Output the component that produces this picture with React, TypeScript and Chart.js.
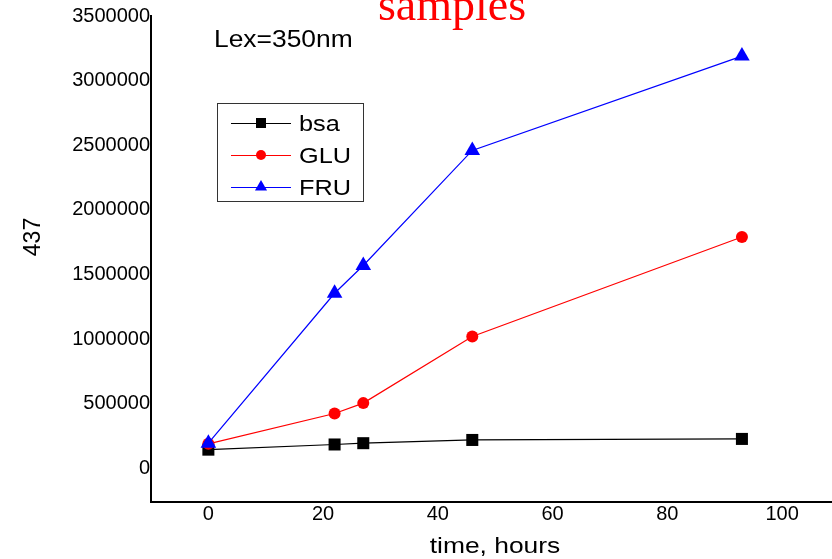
import React, { useEffect, useRef } from "react";
import { Chart, registerables } from "chart.js";

Chart.register(...registerables);

const hours = [0, 22, 27, 46, 93];
const bsa = [145000, 185000, 195000, 220000, 228000];
const glu = [190000, 425000, 505000, 1020000, 1790000];
const fru = [195000, 1355000, 1570000, 2460000, 3190000];
const yTicks = [0, 500000, 1000000, 1500000, 2000000, 2500000, 3000000, 3500000];
const xTicks = [0, 20, 40, 60, 80, 100];
const titleText = "samples";
const noteText = "Lex=350nm";
const xTitle = "time, hours";
const yTitle = "437";

const SANS = '"Liberation Sans", Arial, sans-serif';
const SERIF = '"Liberation Serif", "Times New Roman", serif';

function drawText(ctx, text, x, y, font, color, sx, align) {
  ctx.save();
  ctx.font = font;
  ctx.fillStyle = color;
  ctx.textBaseline = "alphabetic";
  ctx.textAlign = align;
  ctx.translate(x, y);
  ctx.scale(sx, 1);
  ctx.fillText(text, 0, 0);
  ctx.restore();
}

function drawMarker(ctx, style, x, y, r, color) {
  ctx.save();
  ctx.fillStyle = color;
  ctx.beginPath();
  if (style === "rect") {
    ctx.rect(x - r, y - r, 2 * r, 2 * r);
  } else if (style === "circle") {
    ctx.arc(x, y, r, 0, Math.PI * 2);
  } else {
    ctx.moveTo(x, y - r);
    ctx.lineTo(x + r * 0.866, y + r * 0.5);
    ctx.lineTo(x - r * 0.866, y + r * 0.5);
    ctx.closePath();
  }
  ctx.fill();
  ctx.restore();
}

const decorPlugin = {
  id: "decor",
  afterDraw(chart) {
    const ctx = chart.ctx;
    drawText(ctx, titleText, 452, 20, `46px ${SERIF}`, "#ff0000", 1, "center");
    drawText(ctx, noteText, 214, 47, `24px ${SANS}`, "#000", 1.1, "left");
    drawText(ctx, xTitle, 495, 553, `22px ${SANS}`, "#000", 1.2, "center");
    ctx.save();
    ctx.translate(40, 237);
    ctx.rotate(-Math.PI / 2);
    ctx.font = `23px ${SANS}`;
    ctx.fillStyle = "#000";
    ctx.textAlign = "center";
    ctx.textBaseline = "alphabetic";
    ctx.fillText(yTitle, 0, 0);
    ctx.restore();
    ctx.save();
    ctx.strokeStyle = "#333";
    ctx.lineWidth = 1;
    ctx.strokeRect(217.5, 103.5, 146, 98);
    ctx.restore();
    const rows = [123, 155, 187];
    const sizes = [5, 5, 7];
    chart.data.datasets.forEach((ds, i) => {
      const y = rows[i];
      ctx.save();
      ctx.strokeStyle = ds.borderColor;
      ctx.lineWidth = 1;
      ctx.beginPath();
      ctx.moveTo(231, y + 0.5);
      ctx.lineTo(291, y + 0.5);
      ctx.stroke();
      ctx.restore();
      drawMarker(ctx, ds.pointStyle, 261, y, sizes[i], ds.backgroundColor);
      drawText(ctx, ds.label, 299, y + 8, `22px ${SANS}`, "#000", 1.15, "left");
    });
  },
};

export default function App() {
  const ref = useRef(null);
  useEffect(() => {
    const chart = new Chart(ref.current, {
      type: "line",
      data: {
        labels: hours,
        datasets: [
          {
            label: "bsa",
            data: hours.map((h, i) => ({ x: h, y: bsa[i] })),
            borderColor: "#000000",
            backgroundColor: "#000000",
            borderWidth: 1.2,
            pointStyle: "rect",
            pointRadius: 8.5,
            pointBorderWidth: 0,
            order: 3,
          },
          {
            label: "GLU",
            data: hours.map((h, i) => ({ x: h, y: glu[i] })),
            borderColor: "#ff0000",
            backgroundColor: "#ff0000",
            borderWidth: 1.2,
            pointStyle: "circle",
            pointRadius: 6,
            pointBorderWidth: 0,
            order: 2,
          },
          {
            label: "FRU",
            data: hours.map((h, i) => ({ x: h, y: fru[i] })),
            borderColor: "#0000ff",
            backgroundColor: "#0000ff",
            borderWidth: 1.2,
            pointStyle: "triangle",
            pointRadius: 9,
            pointBorderWidth: 0,
            order: 1,
          },
        ],
      },
      options: {
        responsive: false,
        animation: false,
        layout: { autoPadding: false, padding: { top: 16, right: 0, left: 0, bottom: 0 } },
        plugins: { legend: { display: false }, tooltip: { enabled: false }, title: { display: false } },
        scales: {
          x: {
            type: "linear",
            min: -10,
            max: 108.7,
            grid: { display: false, drawTicks: false },
            border: { display: true, color: "#000", width: 2 },
            afterBuildTicks: (s) => {
              s.ticks = xTicks.map((v) => ({ value: v }));
            },
            afterFit: (s) => {
              s.height = 57;
              s.paddingLeft = 0;
              s.paddingRight = 0;
            },
            ticks: {
              color: "#000",
              font: { family: SANS, size: 20 },
              padding: 0,
              maxRotation: 0,
              callback: (v) => String(v),
            },
          },
          y: {
            type: "linear",
            min: -260000,
            max: 3500000,
            grid: { display: false, drawTicks: false },
            border: { display: true, color: "#000", width: 2 },
            afterBuildTicks: (s) => {
              s.ticks = yTicks.map((v) => ({ value: v }));
            },
            afterFit: (s) => {
              s.width = 151;
              s.paddingTop = 0;
              s.paddingBottom = 0;
            },
            ticks: {
              color: "#000",
              font: { family: SANS, size: 20 },
              padding: 1,
              callback: (v) => String(v),
            },
          },
        },
      },
      plugins: [decorPlugin],
    });
    return () => chart.destroy();
  }, []);
  return (
    <div style={{ position: "fixed", left: 0, top: 0, width: 832, height: 559, background: "#fff" }}>
      <canvas ref={ref} width={832} height={559} style={{ display: "block" }} />
    </div>
  );
}
